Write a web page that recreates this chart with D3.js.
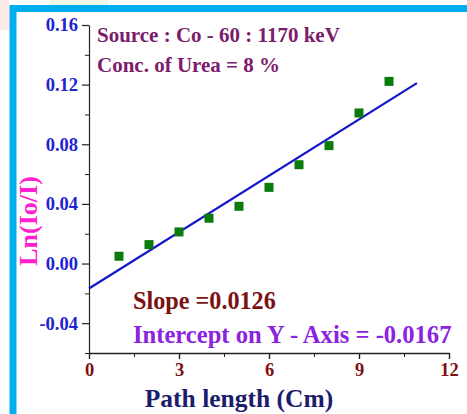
<!DOCTYPE html>
<html>
<head>
<meta charset="utf-8">
<script src="https://cdn.jsdelivr.net/npm/d3@7"></script>
<style>
  html, body { margin: 0; padding: 0; background: #fff; }
  svg { display: block; }
</style>
</head>
<body>
<svg id="chart"></svg>
<script>
// measured path lengths and Ln(Io/I)
const pathLength = [1, 2, 3, 4, 5, 6, 7, 8, 9, 10];
const lnRatio = [0.0049, 0.0127, 0.0212, 0.0304, 0.0384, 0.0511, 0.0663, 0.0791, 0.1010, 0.1222];

// linear fit
const slope = 0.0126;
const intercept = -0.0167;
const fitRange = [0, 10.93];

const xTicks = [0, 3, 6, 9, 12];
const yTicks = [-0.04, 0.00, 0.04, 0.08, 0.12, 0.16];

const width = 467, height = 414;
const margin = {left: 89, right: 18, top: 25, bottom: 61};

const svg = d3.select("#chart")
    .attr("width", width)
    .attr("height", height);

// faint backdrop bits outside the frame
svg.append("rect").attr("x", 0).attr("y", 0).attr("width", 9).attr("height", 30).attr("fill", "#fde8ea");
svg.append("rect").attr("x", 50).attr("y", 0).attr("width", 58).attr("height", 5).attr("fill", "#eef9e6");

// blue frame
svg.append("rect")
    .attr("x", 13).attr("y", 8.5)
    .attr("width", 470).attr("height", 420)
    .attr("fill", "#fff")
    .attr("stroke", "#00aeef")
    .attr("stroke-width", 7);

const x = d3.scaleLinear().domain([0, 12]).range([margin.left, width - margin.right]);
const y = d3.scaleLinear().domain([-0.06, 0.16]).range([height - margin.bottom, margin.top]);

const font = "'Liberation Serif', 'Times New Roman', serif";
const fmtY = d => d3.format(".2f")(d).replace("\u2212", "-");

// x axis: minor ticks first, then major
svg.append("g")
    .attr("transform", `translate(0,${y(-0.06)})`)
    .call(d3.axisBottom(x).tickValues(d3.range(1.5, 12, 3)).tickSize(4).tickFormat(""))
    .call(g => g.select(".domain").remove());
svg.append("g")
    .attr("transform", `translate(0,${y(-0.06)})`)
    .call(d3.axisBottom(x).tickValues(xTicks).tickSize(6).tickSizeOuter(0).tickPadding(4).tickFormat(d3.format("d")))
    .call(g => g.select(".domain").attr("stroke-width", 1.6))
    .call(g => g.selectAll("line").attr("stroke-width", 1.4))
    .call(g => g.selectAll("text")
        .attr("font-family", font).attr("font-weight", "bold")
        .attr("font-size", 18.5).attr("fill", "#801010"));

// y axis
svg.append("g")
    .attr("transform", `translate(${x(0)},0)`)
    .call(d3.axisLeft(y).tickValues([-0.06, -0.02, 0.02, 0.06, 0.10, 0.14]).tickSize(4).tickFormat(""))
    .call(g => g.select(".domain").remove());
svg.append("g")
    .attr("transform", `translate(${x(0)},0)`)
    .call(d3.axisLeft(y).tickValues(yTicks).tickSize(7).tickSizeOuter(0).tickPadding(4).tickFormat(fmtY))
    .call(g => g.select(".domain").attr("stroke-width", 1.2))
    .call(g => g.selectAll("line").attr("stroke-width", 1.2))
    .call(g => g.selectAll("text")
        .attr("font-family", font).attr("font-weight", "bold")
        .attr("font-size", 18.5).attr("fill", "#2222d0"));

svg.selectAll(".tick line, .domain").attr("stroke", "#222");

// fit line
svg.append("line")
    .attr("x1", x(fitRange[0])).attr("y1", y(intercept + slope * fitRange[0]))
    .attr("x2", x(fitRange[1])).attr("y2", y(intercept + slope * fitRange[1]))
    .attr("stroke", "#1515c8")
    .attr("stroke-width", 2.2);

// data squares
const sq = 9;
svg.selectAll("rect.pt")
    .data(pathLength.map((d, i) => ({x: d, y: lnRatio[i]})))
    .enter()
    .append("rect")
    .attr("class", "pt")
    .attr("x", d => x(d.x) - sq / 2)
    .attr("y", d => y(d.y) - sq / 2)
    .attr("width", sq)
    .attr("height", sq)
    .attr("fill", "#0a7a0a");

// annotations
const note = (txt, tx, ty, size, color) => svg.append("text")
    .attr("x", tx).attr("y", ty)
    .attr("font-family", font).attr("font-weight", "bold")
    .attr("font-size", size).attr("fill", color)
    .text(txt);

note("Source : Co - 60 : 1170 keV", 97, 42, 21, "#7c1c6c");
note("Conc. of Urea = 8 %", 97, 72, 21, "#7c1c6c");
note("Slope =" + slope, 133, 309, 24.2, "#7b1212");
note("Intercept on Y - Axis = " + intercept, 133, 343, 24.6, "#8a22e0");

// axis titles
svg.append("text")
    .attr("x", 239).attr("y", 407)
    .attr("text-anchor", "middle")
    .attr("font-family", font).attr("font-weight", "bold")
    .attr("font-size", 25.5).attr("fill", "#1c1c6c")
    .text("Path length (Cm)");

svg.append("text")
    .attr("transform", "translate(37,221) rotate(-90)")
    .attr("text-anchor", "middle")
    .attr("font-family", font).attr("font-weight", "bold")
    .attr("font-size", 26).attr("fill", "#ff20d0")
    .text("Ln(Io/I)");
</script>
</body>
</html>
